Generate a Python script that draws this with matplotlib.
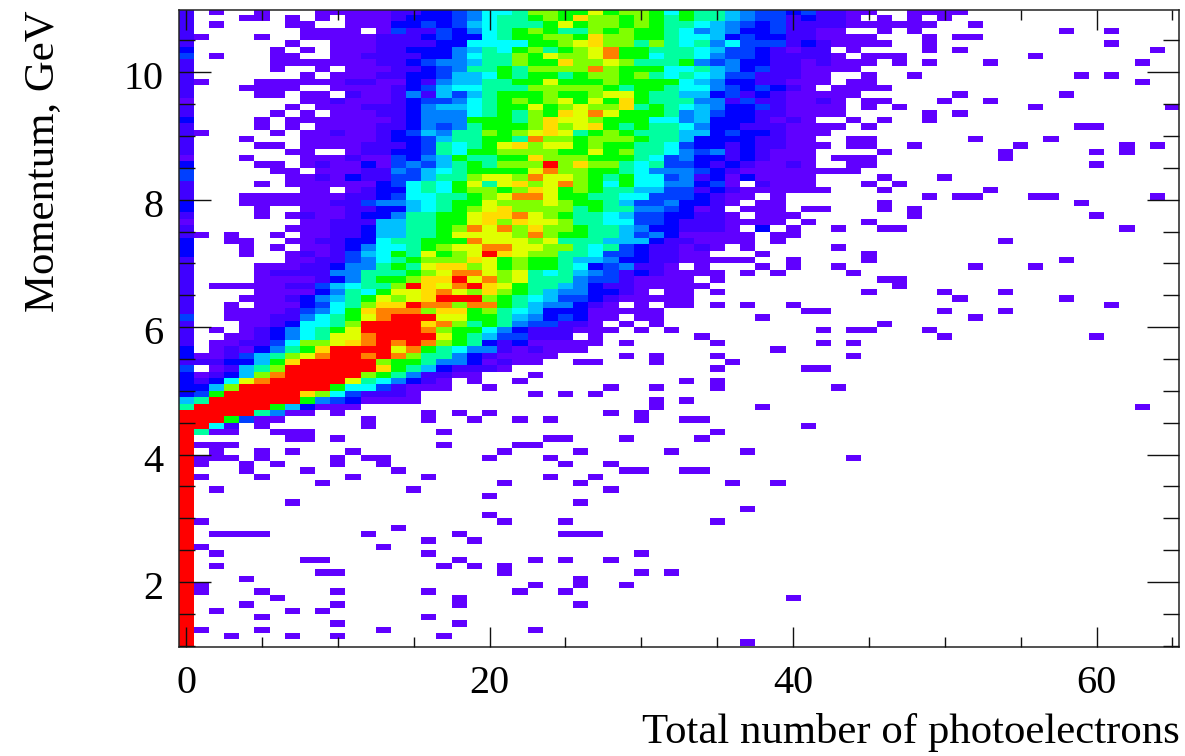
import matplotlib
matplotlib.use("Agg")
import matplotlib.pyplot as plt
import numpy as np
from matplotlib.colors import ListedColormap
from matplotlib.ticker import MultipleLocator
from matplotlib.transforms import ScaledTranslation

plt.rcParams["font.family"] = ["Liberation Serif", "DejaVu Serif"]

# bin contents on the colour scale, top row first, "." = empty bin
# columns 0-21 of each row
rows_left = [
    "1.0..0...0000011223466",
    "1...00.0.0.00012223467",
    "1.0....00..00022323567",
    "1.......0000.031132467",
    "10...0..00000111232267",
    "1......0..000111122666",
    "2.....0.0.000112224576",
    "3.0...00..001111224677",
    "1.....0000000112344577",
    "1.....0..0.00011234778",
    "1.......0.000112235568",
    "10...00000011002145577",
    "1...0000..000012356677",
    "1....00.00.10014153578",
    "0.......00100012334678",
    "1......0.0001112455678",
    "1.....0.0.000112444678",
    "2....0.000000012444888",
    "1....0.0.0000112434788",
    "10....0.00100123547798",
    "1...0...00000122357788",
    "1....00.0000111237678a",
    "1......00..01122376889",
    "0...0...00010032458778",
    "2....00.01002034357879",
    "3.....00.0001143567888",
    "3......0010211335779aa",
    "1....0.000000236768a7a",
    "1.......00.01226768998",
    "1...00000001123667789a",
    "2...0000001134456788a9",
    "2....0..000112256789ab",
    "1....0.010012247788abb",
    "0.......00111557788ab9",
    "1......000112557789cac",
    "10.0..0.0011255778aaaa",
    "2..00..001122677888caa",
    "2...0.0.0012466789aacc",
    "2...0..010135687a89adb",
    "1......001134678999ba8",
    "1....00011244787abb9a8",
    "1....011114477789acca9",
    "1....00001247889bbdac9",
    "1.0000011356779dbacdba",
    "1....000024768aabca9b9",
    "1...000124578a9abddd98",
    "1..0.00023679bbdcc9cc8",
    "1..000013468bccc9bb897",
    "3..000114678acdddaa887",
    "1...00126679ddddbc9787",
    "1.0.0124678addddc98864",
    "1..0012467aacdddda8753",
    "1.00113699abcdcdc98721",
    "2.0102478bddddac876441",
    "20013579acddcdc9774210",
    "1112258bddddd988744201",
    "3.01579ddddddb87521110",
    "201259cddddd98741100..",
    "2126acddddda764210.0..",
    "2259dddddd86631000..0.",
    "238dddddb9631110",
    "57dddddd84320000",
    "7ddddd852000",
    "ddddd7400.0.....0.0.0",
    "ddd8300.....0...0..0",
    "dd61.0......0",
    "d700..000........0",
]
# columns 22-43 of each row
rows_mid = [
    "79988a8998687754332311",
    "7898b99898787754331211",
    "778a899898776543231111",
    "8987798988764542231100",
    "88998b9988766523221100",
    "6889ab9979767463331210",
    "89789ac88777653321011.",
    "98a99ac886776433211110",
    "988b99a977784342211010",
    "79999c9888667542311000",
    "788789989767653311100.",
    "88a888988886542211000.",
    "79999987887664323210.0",
    "889889aa87755231210000",
    "989a8a8b87774413110010",
    "8a89a99b78765422310000",
    "798baca888745322110000",
    "79baa988866452221010..",
    "89b9ab8787764221110000",
    "9aba78987775523221000.",
    "7c998999877522221100..",
    "b9aa89887763221211000.",
    "99988a89776434121000..",
    "8b999888763422121000.0",
    "99d9b997673321210010..",
    "8ac9988764443210000000",
    "9caa9878663412020000..",
    "b9ac98686644230.1000..",
    "9ba898775533121000000.",
    "cca8877663332100.0....",
    "99a988753342210.00....",
    "99997877443201.000.00.",
    "ca9877653322110.000...",
    "baa977663321110000.0..",
    "9b9987754221110.2.0..0",
    "9c98877534200000.00...",
    "a9a7775552110000.0....",
    "aa997673211010.0.....0",
    "a997763321100...0.....",
    "9887554221100000..0...",
    "98876234110.0...0.0..0",
    "a7675431210000.0.0....",
    "a77743310000.0........",
    "8775421100000.........",
    "875442210.00.0........",
    "765332100000..........",
    "7544210.0.00.0.0..0...",
    "6522200000.........00.",
    "5423200.00......0.....",
    "433110.0.0............",
    "2111000.0.0.........0.",
    "3111.0......0.........",
    "200000.0.....0......0.",
    "01000............0....",
    "000....0.0...0........",
    "00..00...0....0.......",
    ".............0.....00.",
]
# single-count bins outside the two blocks above: row -> columns
lone_cells = {
    0: [44, 45, 48, 49, 50, 51], 1: [44, 46, 48, 50], 2: [44, 45, 46, 47, 48, 49, 52],
    3: [46, 48, 58, 61], 4: [44, 45, 49, 51, 52], 5: [44, 45, 46, 49, 61], 6: [44, 49, 51, 64],
    7: [45, 46, 47, 56], 8: [44, 45, 47, 49, 53, 63], 9: [44], 10: [45, 48, 59, 61],
    11: [44, 45, 63], 12: [44, 45, 46], 13: [44, 51, 58], 14: [45, 46, 50, 53],
    15: [45, 47, 56, 65], 16: [49, 51], 17: [44, 46, 49], 18: [45, 59, 60],
    20: [44, 45, 52, 57], 21: [44, 45, 48, 55, 62, 64], 22: [46, 54, 60, 62], 23: [44, 45, 54],
    24: [44, 45, 60], 25: [44], 26: [46, 50], 27: [45, 47], 28: [46, 53],
    29: [49, 51, 52, 56, 57, 64], 30: [46, 59], 31: [46, 48], 32: [48, 60], 33: [45],
    34: [46, 47, 62], 36: [54], 38: [45], 39: [45, 58], 40: [52, 56], 41: [44], 42: [46, 47],
    43: [47], 44: [45, 50, 54], 45: [51, 58], 46: [61], 47: [50, 54], 48: [52], 49: [46],
    50: [44, 45, 49], 51: [50, 60], 52: [44], 54: [44],
    57: [23], 58: [22, 33, 35], 59: [28, 31, 35, 43], 60: [23, 25, 27], 61: [31, 33],
    62: [31, 38, 63], 63: [28, 30], 64: [22, 24, 30, 33, 34], 65: [41], 66: [35],
    67: [7, 8, 10, 24, 25, 29, 34], 68: [1, 2, 3, 17, 22, 23], 69: [2, 5, 7, 11, 21, 26, 32, 37],
    70: [1, 2, 3, 5, 10, 12, 13, 20, 24, 44], 71: [1, 4, 6, 10, 13, 25, 28],
    72: [4, 8, 14, 29, 30, 33, 34], 73: [1, 5, 11, 16, 24, 27], 74: [9, 21, 26, 36, 39],
    75: [2, 15, 28], 76: [20], 77: [7, 26], 78: [37], 79: [20], 80: [1, 21, 25, 35], 81: [14],
    82: [2, 3, 4, 5, 12, 18, 25, 26, 27], 83: [16, 19], 84: [1, 13], 85: [2, 16, 30],
    86: [8, 9, 18, 23, 25, 28], 87: [2, 17, 19, 21], 88: [9, 10, 21, 30, 32], 89: [4, 26],
    90: [1, 23, 26, 29], 91: [1, 5, 10, 16, 22, 25], 92: [6, 18, 40], 93: [4, 10, 18, 26],
    94: [2, 7, 9], 95: [5, 16], 96: [10, 18], 97: [1, 5, 13, 23], 98: [3, 7, 10, 17], 99: [37],
}
# rows from here down are full in the first bin
zero_bin_full_from = 67
zero_bin_level = 13

palette = ["#6000ff", "#4000ff", "#0000ff", "#0040ff", "#0080ff", "#00c0ff", "#00ffff",
           "#00ffa0", "#00ff00", "#80ff00", "#e0ff00", "#ffdc00", "#ff8000", "#ff0000"]
x_ticks = [0, 20, 40, 60]
y_ticks = [2, 4, 6, 8, 10]

n_rows, n_cols = 100, 66
counts = np.full((n_rows, n_cols), np.nan)
for r, row in enumerate(rows_left):
    for c, ch in enumerate(row):
        if ch != ".":
            counts[r, c] = int(ch, 16)
for r, row in enumerate(rows_mid):
    for c, ch in enumerate(row):
        if ch != ".":
            counts[r, 22 + c] = int(ch, 16)
for r, cols in lone_cells.items():
    for c in cols:
        counts[r, c] = 0
counts[zero_bin_full_from:, 0] = zero_bin_level

x_edges = np.arange(n_cols + 1) - 0.5
y_edges = 11 - np.arange(n_rows + 1) * 0.1

fig = plt.figure(figsize=(11.85, 7.56), dpi=100)
ax = fig.add_axes([178.5 / 1185, 1 - 646.5 / 756, (1179.3 - 178.5) / 1185, (646.5 - 10.3) / 756])
ax.pcolormesh(x_edges, y_edges, np.ma.masked_invalid(counts), cmap=ListedColormap(palette),
              vmin=-0.5, vmax=13.5, linewidth=0, rasterized=True)
ax.set_xlim(-0.5, 65.45)
ax.set_ylim(0.99, 10.97)
ax.set_axisbelow(False)

ax.set_xticks(x_ticks)
ax.set_yticks(y_ticks)
ax.xaxis.set_minor_locator(MultipleLocator(5))
ax.yaxis.set_minor_locator(MultipleLocator(0.5))
ax.tick_params(which="both", direction="in", top=True, right=True, width=1.0, color="#111111")
ax.tick_params(axis="x", which="major", length=14.5, labelsize=29, pad=13)
ax.tick_params(axis="x", which="minor", length=7)
ax.tick_params(axis="y", which="major", length=23, labelsize=29, pad=11)
ax.tick_params(axis="y", which="minor", length=11.5)
for spine in ax.spines.values():
    spine.set_linewidth(1.1)
    spine.set_color("#222222")

# y labels sit a little under their ticks in the original
label_shift = ScaledTranslation(0, -3 / 100, fig.dpi_scale_trans)
for label in ax.get_yticklabels():
    label.set_transform(label.get_transform() + label_shift)

ax.set_xlabel("Total number of photoelectrons", fontsize=30.8, loc="right", labelpad=8)
ax.set_ylabel("Momentum, GeV", fontsize=30.8, loc="top", labelpad=44)

fig.savefig("out.png", dpi=100)
plt.close(fig)
